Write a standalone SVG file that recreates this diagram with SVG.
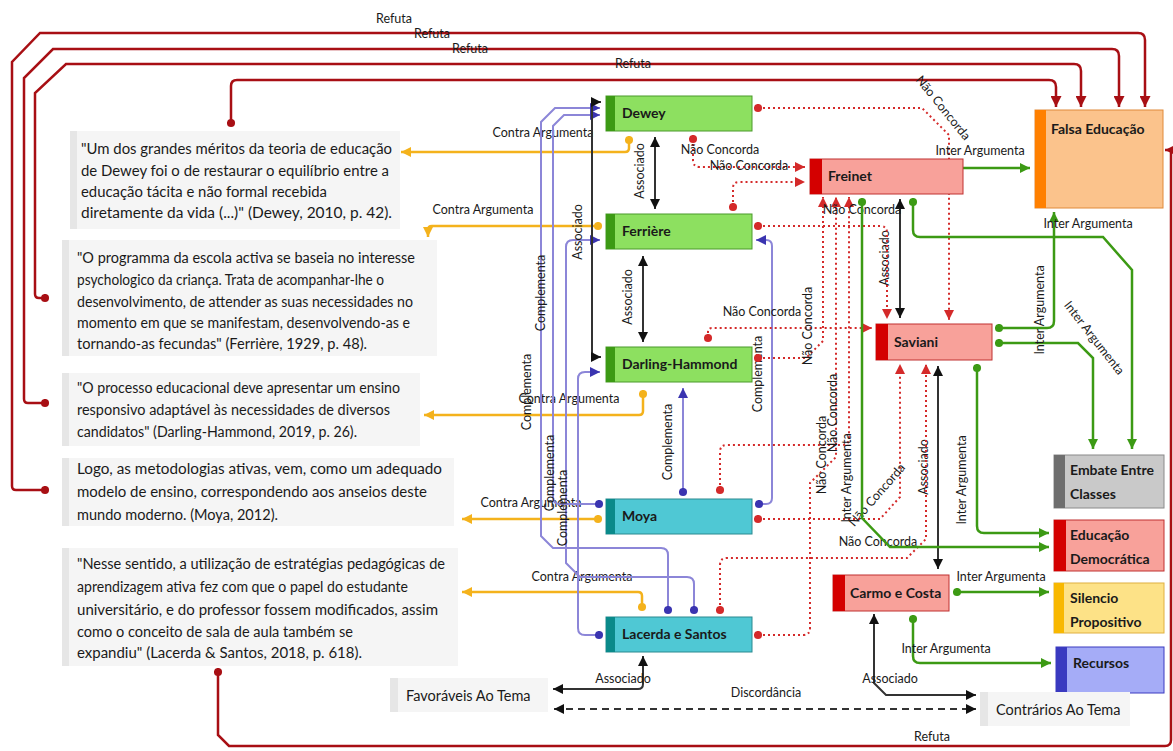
<svg xmlns="http://www.w3.org/2000/svg" width="1173" height="751" viewBox="0 0 1173 751">
  <style>
    text { font-family: Lato, "Open Sans", "Liberation Sans", sans-serif; fill: #1a1a1a; }
    .q { font-size: 14.5px; }
    .nt { font-size: 14px; font-weight: 700; }
    .lbm { font-size: 12.5px; text-anchor: middle; }
    .qbox { fill: #f5f5f5; }
    .qstripe { fill: #e6e6e6; }
    .refuta { fill: none; stroke: #a80f14; stroke-width: 2.5; marker-end: url(#aRefuta); }
    .contra { fill: none; stroke: #f4b21c; stroke-width: 2.5; marker-start: url(#dOrange); marker-end: url(#aOrange); }
    .comp { fill: none; stroke: #8c86d8; stroke-width: 2; marker-start: url(#dBlue); marker-end: url(#aBlue); }
    .assoc { fill: none; stroke: #333; stroke-width: 2; marker-start: url(#aBlack); marker-end: url(#aBlack); }
    .nao { fill: none; stroke: #d42a2a; stroke-width: 2; stroke-dasharray: 2 3; marker-start: url(#dRed); marker-end: url(#aRed); }
    .inter { fill: none; stroke: #3c9a14; stroke-width: 2.5; marker-start: url(#dGreen); marker-end: url(#aGreen); }
  </style>
  <defs>
    <marker id="aRefuta" viewBox="0 0 10 10" refX="10" refY="5" markerWidth="11" markerHeight="11" markerUnits="userSpaceOnUse" orient="auto-start-reverse"><path d="M0,0 L10,5 L0,10 z" fill="#a80f14"/></marker>
    <marker id="aOrange" viewBox="0 0 10 10" refX="10" refY="5" markerWidth="10" markerHeight="10" markerUnits="userSpaceOnUse" orient="auto-start-reverse"><path d="M0,0 L10,5 L0,10 z" fill="#f4b21c"/></marker>
    <marker id="aBlue" viewBox="0 0 10 10" refX="10" refY="5" markerWidth="10" markerHeight="10" markerUnits="userSpaceOnUse" orient="auto-start-reverse"><path d="M0,0 L10,5 L0,10 z" fill="#3a34b0"/></marker>
    <marker id="aBlack" viewBox="0 0 10 10" refX="10" refY="5" markerWidth="10" markerHeight="10" markerUnits="userSpaceOnUse" orient="auto-start-reverse"><path d="M0,0 L10,5 L0,10 z" fill="#111"/></marker>
    <marker id="aRed" viewBox="0 0 10 10" refX="10" refY="5" markerWidth="10" markerHeight="10" markerUnits="userSpaceOnUse" orient="auto-start-reverse"><path d="M0,0 L10,5 L0,10 z" fill="#d42a2a"/></marker>
    <marker id="aGreen" viewBox="0 0 10 10" refX="10" refY="5" markerWidth="10" markerHeight="10" markerUnits="userSpaceOnUse" orient="auto-start-reverse"><path d="M0,0 L10,5 L0,10 z" fill="#3c9a14"/></marker>
    <marker id="dRefuta" viewBox="0 0 10 10" refX="5" refY="5" markerWidth="9" markerHeight="9" markerUnits="userSpaceOnUse"><circle cx="5" cy="5" r="4.5" fill="#a80f14"/></marker>
    <marker id="dOrange" viewBox="0 0 10 10" refX="5" refY="5" markerWidth="9" markerHeight="9" markerUnits="userSpaceOnUse"><circle cx="5" cy="5" r="4.5" fill="#f4b21c"/></marker>
    <marker id="dBlue" viewBox="0 0 10 10" refX="5" refY="5" markerWidth="9" markerHeight="9" markerUnits="userSpaceOnUse"><circle cx="5" cy="5" r="4.5" fill="#3a34b0"/></marker>
    <marker id="dRed" viewBox="0 0 10 10" refX="5" refY="5" markerWidth="9" markerHeight="9" markerUnits="userSpaceOnUse"><circle cx="5" cy="5" r="4.5" fill="#d42a2a"/></marker>
    <marker id="dGreen" viewBox="0 0 10 10" refX="5" refY="5" markerWidth="9" markerHeight="9" markerUnits="userSpaceOnUse"><circle cx="5" cy="5" r="4.5" fill="#3c9a14"/></marker>
  </defs>

  <rect width="1173" height="751" fill="#ffffff"/>

  <!-- quotation boxes -->
  <g id="quote-dewey">
    <rect class="qbox" x="70" y="131" width="330" height="98"/>
    <rect class="qstripe" x="70" y="131" width="7" height="98"/>
    <text class="q" x="81" y="154" textLength="311" lengthAdjust="spacingAndGlyphs">"Um dos grandes méritos da teoria de educação</text>
    <text class="q" x="81" y="176" textLength="308" lengthAdjust="spacingAndGlyphs">de Dewey foi o de restaurar o equilíbrio entre a</text>
    <text class="q" x="81" y="197" textLength="246" lengthAdjust="spacingAndGlyphs">educação tácita e não formal recebida</text>
    <text class="q" x="81" y="218" textLength="311" lengthAdjust="spacingAndGlyphs">diretamente da vida (...)" (Dewey, 2010, p. 42).</text>
  </g>
  <g id="quote-ferriere">
    <rect class="qbox" x="62" y="240" width="375" height="116"/>
    <rect class="qstripe" x="62" y="240" width="7" height="116"/>
    <text class="q" x="77" y="263" textLength="338" lengthAdjust="spacingAndGlyphs">"O programma da escola activa se baseia no interesse</text>
    <text class="q" x="77" y="285" textLength="307" lengthAdjust="spacingAndGlyphs">psychologico da criança. Trata de acompanhar-lhe o</text>
    <text class="q" x="77" y="307" textLength="336" lengthAdjust="spacingAndGlyphs">desenvolvimento, de attender as suas necessidades no</text>
    <text class="q" x="77" y="328" textLength="333" lengthAdjust="spacingAndGlyphs">momento em que se manifestam, desenvolvendo-as e</text>
    <text class="q" x="77" y="349" textLength="290" lengthAdjust="spacingAndGlyphs">tornando-as fecundas" (Ferrière, 1929, p. 48).</text>
  </g>
  <g id="quote-darling">
    <rect class="qbox" x="62" y="373" width="358" height="73"/>
    <rect class="qstripe" x="62" y="373" width="7" height="73"/>
    <text class="q" x="77" y="393" textLength="323" lengthAdjust="spacingAndGlyphs">"O processo educacional deve apresentar um ensino</text>
    <text class="q" x="77" y="415" textLength="313" lengthAdjust="spacingAndGlyphs">responsivo adaptável às necessidades de diversos</text>
    <text class="q" x="77" y="437" textLength="280" lengthAdjust="spacingAndGlyphs">candidatos" (Darling-Hammond, 2019, p. 26).</text>
  </g>
  <g id="quote-moya">
    <rect class="qbox" x="62" y="458" width="392" height="68"/>
    <rect class="qstripe" x="62" y="458" width="7" height="68"/>
    <text class="q" x="77" y="474" textLength="365" lengthAdjust="spacingAndGlyphs">Logo, as metodologias ativas, vem, como um adequado</text>
    <text class="q" x="77" y="497" textLength="350" lengthAdjust="spacingAndGlyphs">modelo de ensino, correspondendo aos anseios deste</text>
    <text class="q" x="77" y="520" textLength="201" lengthAdjust="spacingAndGlyphs">mundo moderno. (Moya, 2012).</text>
  </g>
  <g id="quote-lacerda">
    <rect class="qbox" x="62" y="548" width="396" height="118"/>
    <rect class="qstripe" x="62" y="548" width="7" height="118"/>
    <text class="q" x="77" y="569" textLength="368" lengthAdjust="spacingAndGlyphs">"Nesse sentido, a utilização de estratégias pedagógicas de</text>
    <text class="q" x="77" y="592" textLength="331" lengthAdjust="spacingAndGlyphs">aprendizagem ativa fez com que o papel do estudante</text>
    <text class="q" x="77" y="615" textLength="361" lengthAdjust="spacingAndGlyphs">universitário, e do professor fossem modificados, assim</text>
    <text class="q" x="77" y="637" textLength="276" lengthAdjust="spacingAndGlyphs">como o conceito de sala de aula também se</text>
    <text class="q" x="77" y="658" textLength="285" lengthAdjust="spacingAndGlyphs">expandiu" (Lacerda &amp; Santos, 2018, p. 618).</text>
  </g>

  <!-- connectors -->
  <g id="connectors">
    <!-- Refuta -->
    <path class="refuta" marker-start="url(#dRefuta)" d="M45,490 H16 Q12,490 12,486 V62 L40,33 H1138 Q1145,33 1145,40 V107"/>
    <path class="refuta" marker-start="url(#dRefuta)" d="M45,403 H28 Q24,403 24,399 V78 L53,49 H1112 Q1119,49 1119,56 V107"/>
    <path class="refuta" marker-start="url(#dRefuta)" d="M45,298 H39 Q35,298 35,294 V93 L66,64 H1074 Q1081,64 1081,71 V107"/>
    <path class="refuta" marker-start="url(#dRefuta)" d="M231,123 V86 Q231,80 237,80 H1049 Q1056,80 1056,87 V107"/>
    <path class="refuta" marker-start="url(#dRefuta)" d="M218,672 V735 L229,746 H1165 Q1171,746 1171,740 V150 H1165"/>
    <text class="lbm" x="394" y="23">Refuta</text>
    <text class="lbm" x="432" y="38">Refuta</text>
    <text class="lbm" x="470" y="53">Refuta</text>
    <text class="lbm" x="633" y="68">Refuta</text>
    <text class="lbm" x="932" y="741">Refuta</text>

    <!-- Contra Argumenta -->
    <path class="contra" d="M629,140 V148 Q629,152 625,152 H401"/>
    <path class="contra" d="M598,226 H432 Q428,226 428,230 V237"/>
    <path class="contra" d="M643,394 V411 Q643,415 639,415 H424"/>
    <path class="contra" d="M598,519 H462"/>
    <path class="contra" d="M642,607 V596 Q642,592 638,592 H462"/>
    <text class="lbm" x="543" y="137">Contra Argumenta</text>
    <text class="lbm" x="483" y="214">Contra Argumenta</text>
    <text class="lbm" x="569" y="403">Contra Argumenta</text>
    <text class="lbm" x="531" y="507">Contra Argumenta</text>
    <text class="lbm" x="582" y="581">Contra Argumenta</text>

    <!-- Complementa -->
    <path class="comp" d="M668,610 V555 Q668,548 661,548 H553 L541,536 V122 L555,108 H600"/>
    <path class="comp" d="M599,504 H560 Q553,504 553,497 V126 L564,115 H600"/>
    <path class="comp" d="M694,610 V584 Q694,577 687,577 H580 L566,563 V247 Q566,240 573,240 H600"/>
    <path class="comp" d="M599,635 H585 Q578,635 578,628 V379 Q578,372 585,372 H600"/>
    <path class="comp" d="M683,492 V388"/>
    <path class="comp" d="M759,504 H766 Q772,504 772,498 V246 Q772,240 766,240 H756"/>
    <text class="lbm" transform="translate(527,392) rotate(-90)" y="4">Complementa</text>
    <text class="lbm" transform="translate(541,293) rotate(-90)" y="4">Complementa</text>
    <text class="lbm" transform="translate(550,473) rotate(-90)" y="4">Complementa</text>
    <text class="lbm" transform="translate(563,508) rotate(-90)" y="4">Complementa</text>
    <text class="lbm" transform="translate(668,442) rotate(-90)" y="4">Complementa</text>
    <text class="lbm" transform="translate(758,374) rotate(-90)" y="4">Complementa</text>

    <!-- Associado / Discordância -->
    <path class="assoc" d="M655,137 V209"/>
    <path class="assoc" d="M643,256 V342"/>
    <path class="assoc" d="M601,102 H597 Q592,102 592,107 V352 Q592,357 597,357 H601"/>
    <path class="assoc" d="M900,199 V318"/>
    <path class="assoc" d="M938,366 V569"/>
    <path class="assoc" d="M643,656 V684 Q643,689 638,689 H553"/>
    <path class="assoc" d="M874,614 V683 L886,695 H976"/>
    <path class="assoc" stroke-width="2.5" stroke-dasharray="7 5" d="M554,709 H976"/>
    <text class="lbm" transform="translate(640,171) rotate(-90)" y="4">Associado</text>
    <text class="lbm" transform="translate(628,297) rotate(-90)" y="4">Associado</text>
    <text class="lbm" transform="translate(578,232) rotate(-90)" y="4">Associado</text>
    <text class="lbm" transform="translate(885,258) rotate(-90)" y="4">Associado</text>
    <text class="lbm" transform="translate(924,467) rotate(-90)" y="4">Associado</text>
    <text class="lbm" x="623" y="683">Associado</text>
    <text class="lbm" x="890" y="683">Associado</text>
    <text class="lbm" x="766" y="697">Discordância</text>

    <!-- Não Concorda -->
    <path class="nao" d="M758,108 H922 L949,135 V320"/>
    <path class="nao" d="M693,139 V160 Q693,167 700,167 H805"/>
    <path class="nao" d="M733,207 V188 Q733,182 739,182 H805"/>
    <path class="nao" d="M758,226 H880 Q887,226 887,233 V319"/>
    <path class="nao" d="M708,338 V332 Q708,328 712,328 H872"/>
    <path class="nao" d="M758,358 H806 L823,341 V197"/>
    <path class="nao" d="M720,490 V452 Q720,445 727,445 H842 Q849,445 849,438 V197"/>
    <path class="nao" d="M758,635 H803 Q810,635 810,628 V483 L836,457 V197"/>
    <path class="nao" d="M758,519 H880 L900,497 V364"/>
    <path class="nao" d="M720,610 V565 Q720,558 727,558 H907 L926,539 V364"/>
    <text class="lbm" transform="translate(943,108) rotate(51)" y="4">Não Concorda</text>
    <text class="lbm" x="720" y="154">Não Concorda</text>
    <text class="lbm" x="749" y="170">Não Concorda</text>
    <text class="lbm" x="862" y="214">Não Concorda</text>
    <text class="lbm" x="762" y="316">Não Concorda</text>
    <text class="lbm" transform="translate(808,326) rotate(-90)" y="4">Não Concorda</text>
    <text class="lbm" transform="translate(833,413) rotate(-90)" y="4">Não Concorda</text>
    <text class="lbm" transform="translate(822,455) rotate(-90)" y="4">Não Concorda</text>
    <text class="lbm" transform="translate(877,495) rotate(-49)" y="4">Não Concorda</text>
    <text class="lbm" x="878" y="546">Não Concorda</text>

    <!-- Inter Argumenta -->
    <path class="inter" d="M932,168 H1030"/>
    <path class="inter" d="M862,202 V518 L890,547 H1049"/>
    <path class="inter" d="M913,202 V230 Q913,237 920,237 H1103 L1132,270 V449"/>
    <path class="inter" d="M999,328 H1047 Q1054,328 1054,321 V212"/>
    <path class="inter" d="M999,343 H1078 L1093,358 V449"/>
    <path class="inter" d="M977,368 V526 Q977,533 984,533 H1049"/>
    <path class="inter" d="M957,592 H1049"/>
    <path class="inter" d="M913,619 V656 Q913,663 920,663 H1051"/>
    <text class="lbm" x="980" y="155">Inter Argumenta</text>
    <text class="lbm" x="1088" y="228">Inter Argumenta</text>
    <text class="lbm" transform="translate(1040,310) rotate(-90)" y="4">Inter Argumenta</text>
    <text class="lbm" transform="translate(1094,338) rotate(52)" y="4">Inter Argumenta</text>
    <text class="lbm" transform="translate(847,478) rotate(-90)" y="4">Inter Argumenta</text>
    <text class="lbm" transform="translate(962,480) rotate(-90)" y="4">Inter Argumenta</text>
    <text class="lbm" x="1001" y="581">Inter Argumenta</text>
    <text class="lbm" x="946" y="653">Inter Argumenta</text>
  </g>

  <!-- favourable authors -->
  <g id="node-dewey">
    <rect x="606" y="96" width="146" height="35" fill="#8de060" stroke="#4a9a2a"/>
    <rect x="606" y="96" width="9" height="35" fill="#3c9a14"/>
    <text class="nt" x="622" y="118">Dewey</text>
  </g>
  <g id="node-ferriere">
    <rect x="606" y="214" width="146" height="35" fill="#8de060" stroke="#4a9a2a"/>
    <rect x="606" y="214" width="9" height="35" fill="#3c9a14"/>
    <text class="nt" x="622" y="236">Ferrière</text>
  </g>
  <g id="node-darling-hammond">
    <rect x="606" y="347" width="146" height="35" fill="#8de060" stroke="#4a9a2a"/>
    <rect x="606" y="347" width="9" height="35" fill="#3c9a14"/>
    <text class="nt" x="622" y="369">Darling-Hammond</text>
  </g>
  <g id="node-moya">
    <rect x="606" y="499" width="146" height="35" fill="#4fc8d4" stroke="#2a8a90"/>
    <rect x="606" y="499" width="9" height="35" fill="#0a8a8a"/>
    <text class="nt" x="622" y="521">Moya</text>
  </g>
  <g id="node-lacerda-santos">
    <rect x="606" y="617" width="146" height="35" fill="#4fc8d4" stroke="#2a8a90"/>
    <rect x="606" y="617" width="9" height="35" fill="#0a8a8a"/>
    <text class="nt" x="622" y="639">Lacerda e Santos</text>
  </g>

  <!-- contrary authors -->
  <g id="node-freinet">
    <rect x="810" y="159" width="153" height="35" fill="#f8a19a" stroke="#c03030"/>
    <rect x="810" y="159" width="12" height="35" fill="#d40000"/>
    <text class="nt" x="828" y="181">Freinet</text>
  </g>
  <g id="node-saviani">
    <rect x="876" y="324" width="116" height="36" fill="#f8a19a" stroke="#c03030"/>
    <rect x="876" y="324" width="12" height="36" fill="#d40000"/>
    <text class="nt" x="894" y="347">Saviani</text>
  </g>
  <g id="node-carmo-costa">
    <rect x="833" y="575" width="116" height="36" fill="#f8a19a" stroke="#c03030"/>
    <rect x="833" y="575" width="12" height="36" fill="#d40000"/>
    <text class="nt" x="850" y="598">Carmo e Costa</text>
  </g>

  <!-- themes -->
  <g id="node-falsa-educacao">
    <rect x="1035" y="110" width="128" height="98" fill="#fbc38c" stroke="#e08a3a"/>
    <rect x="1035" y="110" width="11" height="98" fill="#ff8000"/>
    <text class="nt" x="1051" y="134">Falsa Educação</text>
  </g>
  <g id="node-embate">
    <rect x="1054" y="455" width="110" height="53" fill="#c9c9c9" stroke="#8a8a8a"/>
    <rect x="1054" y="455" width="11" height="53" fill="#6e6e6e"/>
    <text class="nt" x="1070" y="475">Embate Entre</text>
    <text class="nt" x="1070" y="499">Classes</text>
  </g>
  <g id="node-educacao-democratica">
    <rect x="1054" y="520" width="110" height="51" fill="#f8a19a" stroke="#c03030"/>
    <rect x="1054" y="520" width="12" height="51" fill="#d40000"/>
    <text class="nt" x="1070" y="540">Educação</text>
    <text class="nt" x="1070" y="564">Democrática</text>
  </g>
  <g id="node-silencio">
    <rect x="1054" y="583" width="110" height="50" fill="#fde287" stroke="#e0b040"/>
    <rect x="1054" y="583" width="10" height="50" fill="#f8b800"/>
    <text class="nt" x="1070" y="603">Silencio</text>
    <text class="nt" x="1070" y="627">Propositivo</text>
  </g>
  <g id="node-recursos">
    <rect x="1056" y="647" width="108" height="46" fill="#a5acf7" stroke="#3a3ac0"/>
    <rect x="1056" y="647" width="11" height="46" fill="#3a3ac0"/>
    <text class="nt" x="1073" y="668">Recursos</text>
  </g>

  <!-- side labels -->
  <g id="node-favoraveis">
    <rect x="390" y="678" width="158" height="34" fill="#f5f5f5"/>
    <rect x="390" y="678" width="8" height="34" fill="#e6e6e6"/>
    <text class="q" x="406" y="701">Favoráveis Ao Tema</text>
  </g>
  <g id="node-contrarios">
    <rect x="980" y="692" width="150" height="34" fill="#f5f5f5"/>
    <rect x="980" y="692" width="8" height="34" fill="#e6e6e6"/>
    <text class="q" x="996" y="715">Contrários Ao Tema</text>
  </g>
</svg>
